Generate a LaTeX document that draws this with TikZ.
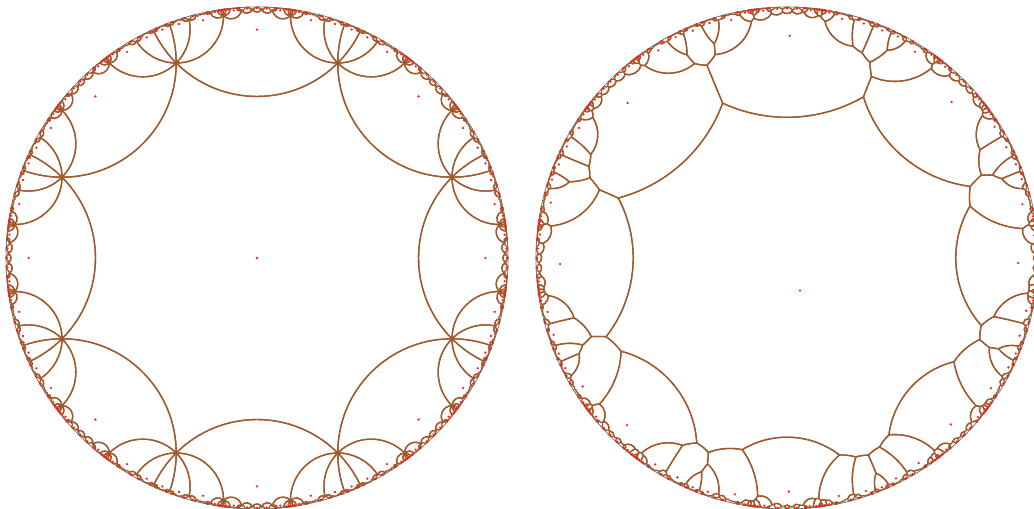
\documentclass[tikz,border=0pt]{standalone}
\definecolor{edgecol}{HTML}{A05A2E}
\definecolor{dotcol}{HTML}{FF1A1A}
\definecolor{rimcol}{HTML}{6E7780}
\makeatletter
\def\hypS{10000000}
\def\hypa{24142136}
\newcount\Ar \newcount\Ai \newcount\Br \newcount\Bi
\newcount\Nar \newcount\Nai \newcount\Nbr \newcount\Nbi
\newcount\hypN \newcount\hypI \newcount\hypD
\newcount\nr \newcount\ni \newcount\dr \newcount\di \newcount\tq \newcount\qq
\newcount\hypX \newcount\hypY \newcount\hypPX \newcount\hypPY \newcount\hypFX \newcount\hypFY
\newcount\lenx \newcount\leny
\def\hypAmax{2500000}
\def\hypDiv{%
 \ifnum\ifnum\dr<0 -\fi\dr>\ifnum\di<0 -\fi\di
  \tq=\numexpr\di*\hypS/\dr\relax
  \qq=\numexpr\dr+\di*\tq/\hypS\relax
  \hypX=\numexpr(\nr+\ni*\tq/\hypS)*\hypS/\qq\relax
  \hypY=\numexpr(\ni-\nr*\tq/\hypS)*\hypS/\qq\relax
 \else
  \tq=\numexpr\dr*\hypS/\di\relax
  \qq=\numexpr\di+\dr*\tq/\hypS\relax
  \hypX=\numexpr(\nr*\tq/\hypS+\ni)*\hypS/\qq\relax
  \hypY=\numexpr(\ni*\tq/\hypS-\nr)*\hypS/\qq\relax
 \fi}
\def\hypMap#1#2{%
 \nr=\numexpr\Ar*#1/\hypS-\Ai*#2/\hypS+\Br\relax
 \ni=\numexpr\Ar*#2/\hypS+\Ai*#1/\hypS+\Bi\relax
 \dr=\numexpr\Br*#1/\hypS+\Bi*#2/\hypS+\Ar\relax
 \di=\numexpr\Br*#2/\hypS-\Bi*#1/\hypS-\Ai\relax
 \hypDiv}
\def\hypPut#1#2#3#4{\global\advance\hypN by 1
 \expandafter\xdef\csname hypT\the\hypN\endcsname{{#1}{#2}{#3}{#4}}}
\def\hypLoad#1#2#3#4{\Ar=#1 \Ai=#2 \Br=#3 \Bi=#4 }
\def\hypChild#1#2{%
 \Nar=\numexpr\Ar*\hypa/\hypS+\Br*#1/\hypS+\Bi*#2/\hypS\relax
 \Nai=\numexpr\Ai*\hypa/\hypS+\Bi*#1/\hypS-\Br*#2/\hypS\relax
 \Nbr=\numexpr\Ar*#1/\hypS-\Ai*#2/\hypS+\Br*\hypa/\hypS\relax
 \Nbi=\numexpr\Ar*#2/\hypS+\Ai*#1/\hypS+\Bi*\hypa/\hypS\relax
 \hypD=\numexpr(\Nar/100000)*(\Nar/100000)+(\Nai/100000)*(\Nai/100000)\relax
 \ifnum\hypD<\hypAmax\relax
  \nr=\Nbr \ni=\Nbi \dr=\Nar \di=-\Nai \hypDiv
  \edef\hypKey{K\the\numexpr\hypX/1000\relax,\the\numexpr\hypY/1000\relax}%
  \expandafter\ifx\csname\hypKey\endcsname\relax
   \global\expandafter\let\csname\hypKey\endcsname\hypS
   \edef\tmp{{\the\Nar}{\the\Nai}{\the\Nbr}{\the\Nbi}}%
   \expandafter\hypPut\tmp
  \fi
 \fi}
\def\hypBuild{%
 \hypN=0 \hypPut{10000000}{0}{0}{0}%
 \expandafter\global\expandafter\let\csname K0,0\endcsname\hypS
 \hypI=0
 \loop\ifnum\hypI<\hypN
  \advance\hypI by 1
  \expandafter\expandafter\expandafter\hypLoad\csname hypT\the\hypI\endcsname
  \hypChild{21973682}{0}\hypChild{15537740}{15537740}\hypChild{0}{21973682}\hypChild{-15537740}{15537740}%
  \hypChild{-21973682}{0}\hypChild{-15537740}{-15537740}\hypChild{0}{-21973682}\hypChild{15537740}{-15537740}%
 \repeat}
\def\hypPt#1#2{\pgfqpoint{\numexpr#1*12337152/10000000\relax sp}{\numexpr#2*12337152/10000000\relax sp}}
\def\hypEdge{%
 \lenx=\numexpr(\hypX-\hypPX)/3984\relax \leny=\numexpr(\hypY-\hypPY)/3984\relax
 \ifnum\numexpr\lenx*\lenx+\leny*\leny\relax<144
  \pgfpathlineto{\hypPt\hypX\hypY}%
 \else
  \edef\xa{\fpeval{\the\hypPX e-7}}\edef\ya{\fpeval{\the\hypPY e-7}}%
  \edef\xb{\fpeval{\the\hypX e-7}}\edef\yb{\fpeval{\the\hypY e-7}}%
  \edef\dd{\fpeval{\xa*\yb-\xb*\ya}}%
  \ifdim\fpeval{abs(\dd)}pt<0.00001pt
   \pgfpathlineto{\hypPt\hypX\hypY}%
  \else
   \edef\sa{\fpeval{1+\xa*\xa+\ya*\ya}}\edef\sb{\fpeval{1+\xb*\xb+\yb*\yb}}%
   \edef\cx{\fpeval{(\sa*\yb-\sb*\ya)/(2*\dd)}}\edef\cy{\fpeval{(\sb*\xa-\sa*\xb)/(2*\dd)}}%
   \edef\uax{\fpeval{\xa-\cx}}\edef\uay{\fpeval{\ya-\cy}}\edef\ubx{\fpeval{\xb-\cx}}\edef\uby{\fpeval{\yb-\cy}}%
   \edef\kk{\fpeval{4/3*tan(atan(\uax*\uby-\uay*\ubx,\uax*\ubx+\uay*\uby)/4)}}%
   \pgfpathcurveto
    {\pgfqpoint{\fpeval{(\xa-\kk*\uay)*188.25}pt}{\fpeval{(\ya+\kk*\uax)*188.25}pt}}%
    {\pgfqpoint{\fpeval{(\xb+\kk*\uby)*188.25}pt}{\fpeval{(\yb-\kk*\ubx)*188.25}pt}}%
    {\hypPt\hypX\hypY}%
  \fi
 \fi
 \hypPX=\hypX \hypPY=\hypY}
\newif\iffirstv
\def\hypV#1#2{\hypMap{#1}{#2}%
 \iffirstv\firstvfalse \pgfpathmoveto{\hypPt\hypX\hypY}\hypPX=\hypX \hypPY=\hypY \hypFX=\hypX \hypFY=\hypY
 \else\hypEdge\fi}
\def\hypClose{\hypX=\hypFX \hypY=\hypFY \hypEdge}
\def\hypTiles#1{%
 \hypI=0
 \loop\ifnum\hypI<\hypN
  \advance\hypI by 1
  \expandafter\expandafter\expandafter\hypLoad\csname hypT\the\hypI\endcsname
  \firstvtrue #1\hypClose
  \pgfusepath{stroke}%
 \repeat}
\def\hypDots#1#2{%
 \hypI=0
 \loop\ifnum\hypI<\hypN
  \advance\hypI by 1
  \expandafter\expandafter\expandafter\hypLoad\csname hypT\the\hypI\endcsname
  \hypMap{#1}{#2}%
  \pgfpathcircle{\hypPt\hypX\hypY}{0.95pt}%
  \pgfusepath{fill}%
 \repeat}
\def\octlist{%
 \hypV{7768950}{3218004}\hypV{3218004}{7768950}\hypV{-3218004}{7768950}\hypV{-7768950}{3218004}%
 \hypV{-7768950}{-3218004}\hypV{-3218004}{-7768950}\hypV{3218004}{-7768950}\hypV{7768950}{-3218004}}
\def\celllist{%
 \hypV{-7205894}{-3135091}\hypV{-6609107}{-3716114}\hypV{-3594060}{-7370405}\hypV{-3130130}{-7742303}%
 \hypV{-1782552}{-7637087}\hypV{2091518}{-7848504}\hypV{2742741}{-7927217}\hypV{3245288}{-7852494}%
 \hypV{3682050}{-7529628}\hypV{4059648}{-7047165}\hypV{6651077}{-4133439}\hypV{7681817}{-3247877}%
 \hypV{7740910}{-2691465}\hypV{7290464}{2070599}\hypV{7299654}{2852786}\hypV{3045409}{6417173}%
 \hypV{-2564033}{6168529}\hypV{-6722107}{2388978}}
\def\hypPanel#1#2#3#4{%
 \begin{pgfscope}
 \pgftransformshift{\pgfqpoint{#1}{187.5pt}}
 \pgfsetlinewidth{0.6pt}\pgfsetstrokecolor{rimcol}
 \pgfpathcircle{\pgfqpoint{0pt}{0pt}}{188.25pt}\pgfusepath{stroke}
 \pgfsetlinewidth{1pt}\pgfsetroundjoin\pgfsetroundcap
 \pgfsetstrokecolor{edgecol}\pgfsetfillcolor{dotcol}
 \hypTiles#2%
 \hypDots{#3}{#4}%
 \end{pgfscope}}
\makeatother
\begin{document}
\begin{tikzpicture}[x=0.75pt,y=0.75pt]
\path[use as bounding box,clip] (0,0) rectangle (1034,508);
\makeatletter
\hypBuild
\hypPanel{192.75pt}{\octlist}{0}{0}
\hypPanel{590.25pt}{\celllist}{518000}{-1303000}
\makeatother
\end{tikzpicture}
\end{document}
